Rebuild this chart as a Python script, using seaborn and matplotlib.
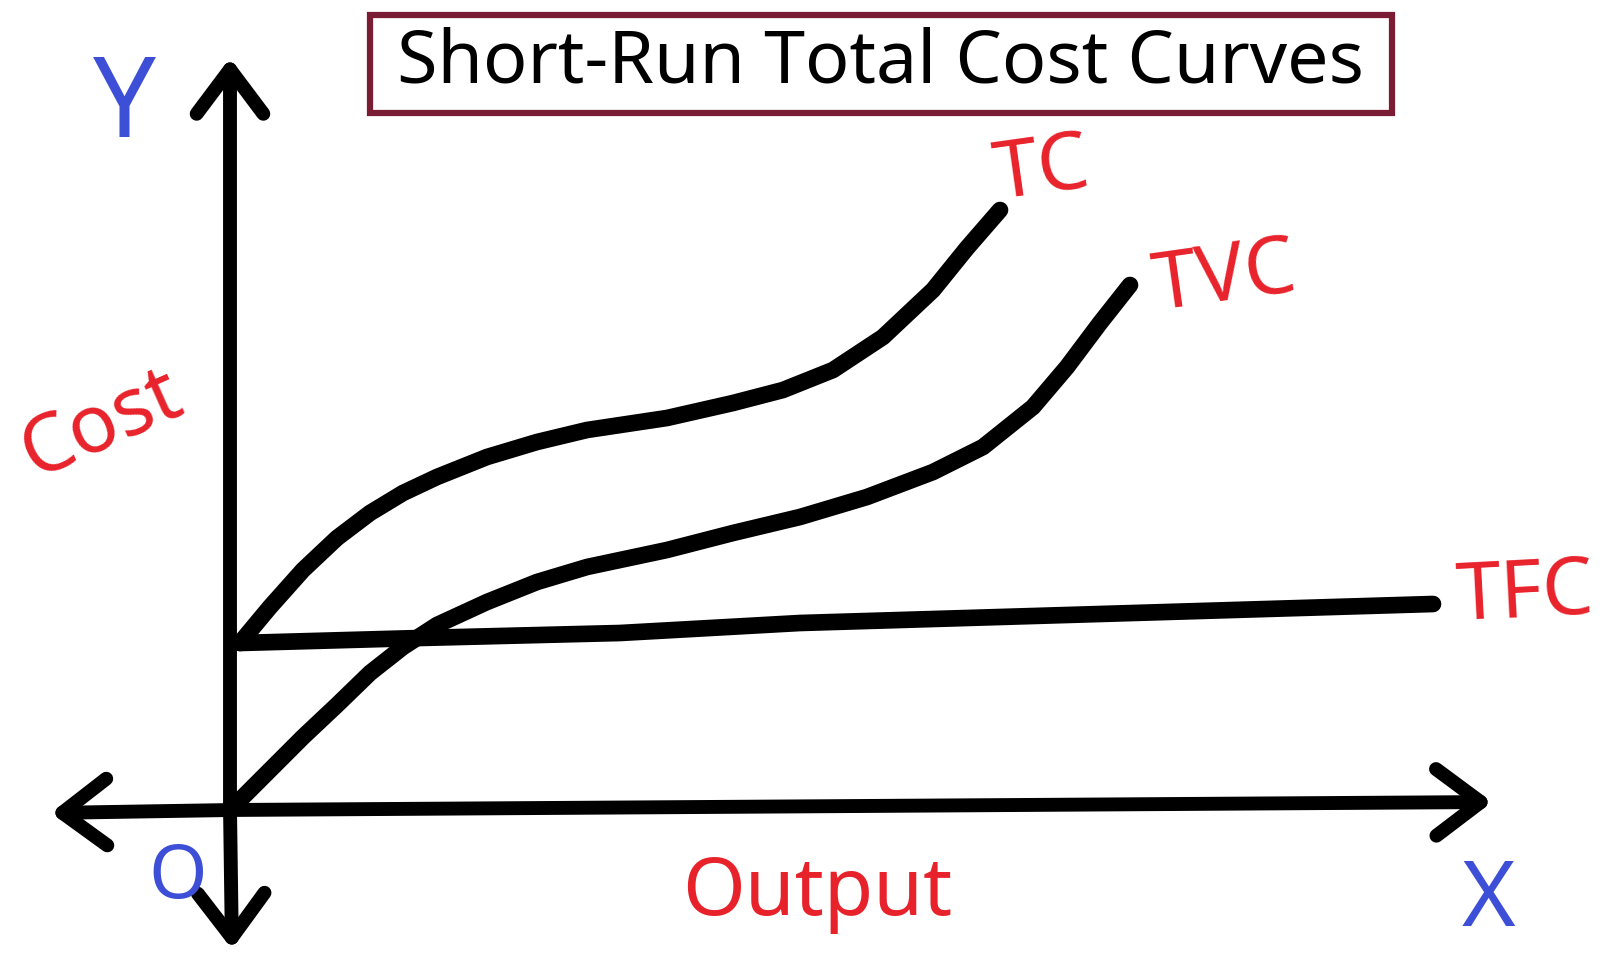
import pandas as pd
import matplotlib.pyplot as plt
from matplotlib.patches import Rectangle
import seaborn as sns

# curve points (output, cost); origin at the axes cross
tfc_output = [0.10, 1.90, 3.90, 5.70, 7.70, 12.03]
tfc_cost = [1.67, 1.72, 1.77, 1.87, 1.93, 2.06]

tvc_output = [0.07, 0.40, 0.73, 1.07, 1.40, 1.73, 2.07, 2.57, 3.07, 3.57,
              4.37, 5.03, 5.70, 6.37, 7.03, 7.53, 8.03, 8.37, 8.70, 9.00]
tvc_cost = [0.07, 0.40, 0.73, 1.05, 1.37, 1.63, 1.85, 2.08, 2.28, 2.43,
            2.60, 2.77, 2.93, 3.13, 3.38, 3.63, 4.03, 4.43, 4.87, 5.25]

tc_output = [0.10, 0.40, 0.73, 1.07, 1.40, 1.73, 2.07, 2.57, 3.07, 3.57,
             4.37, 5.03, 5.53, 6.03, 6.53, 7.03, 7.37, 7.70]
tc_cost = [1.67, 2.03, 2.40, 2.72, 2.97, 3.17, 3.33, 3.53, 3.68, 3.80,
           3.92, 4.07, 4.20, 4.40, 4.73, 5.20, 5.62, 6.00]

curve_names = ["TC", "TVC", "TFC"]
title = "Short-Run Total Cost Curves"

RED = "#e8222b"
BLUE = "#3d4fd6"
MAROON = "#7a1c33"

frames = []
for name, xs, ys in [("TC", tc_output, tc_cost),
                     ("TVC", tvc_output, tvc_cost),
                     ("TFC", tfc_output, tfc_cost)]:
    frames.append(pd.DataFrame({"output": xs, "cost": ys, "curve": name}))
df = pd.concat(frames, ignore_index=True)

sns.set_theme(style="white")
plt.rcParams["font.family"] = ["Noto Sans", "DejaVu Sans"]

fig = plt.figure(figsize=(16.12, 9.55), dpi=100)
ax = fig.add_axes([0, 0, 1, 1])
ax.set_xlim(-2.30, 13.82)
ax.set_ylim(-1.45, 8.10)
ax.axis("off")

sns.lineplot(data=df, x="output", y="cost", hue="curve", units="curve",
             estimator=None, sort=False, palette={c: "black" for c in curve_names},
             linewidth=12, legend=False, ax=ax, solid_capstyle="round",
             solid_joinstyle="round")

# hand-drawn style axes with open arrow heads
arrow = dict(arrowstyle="->, head_length=0.8, head_width=0.6", lw=10,
             color="black", mutation_scale=40, capstyle="round", joinstyle="round")
ax.annotate("", xy=(0, 7.55), xytext=(0, -0.02), arrowprops=arrow)
ax.annotate("", xy=(0.02, -1.42), xytext=(0, 0.02), arrowprops=arrow)
ax.annotate("", xy=(12.65, 0.08), xytext=(-0.02, 0.0), arrowprops=arrow)
ax.annotate("", xy=(-1.82, -0.03), xytext=(0.02, 0.0), arrowprops=arrow)

# curve labels next to the line ends
ends = {"TC": (tc_output[-1], tc_cost[-1], (30, 28), 8),
        "TVC": (tvc_output[-1], tvc_cost[-1], (68, 4), 8),
        "TFC": (tfc_output[-1], tfc_cost[-1], (66, 6), 3)}
for name in curve_names:
    x, y, off, rot = ends[name]
    ax.annotate(name, xy=(x, y), xytext=off, textcoords="offset points",
                ha="center", va="center", fontsize=58, color=RED, rotation=rot)

# axis words
ax.text(-1.28, 3.85, "Cost", fontsize=58, color=RED, rotation=24,
        ha="center", va="center")
ax.text(5.87, -0.84, "Output", fontsize=58, color=RED, ha="center", va="center")
ax.text(-1.06, 7.02, "Y", fontsize=80, color=BLUE, fontweight="bold",
        ha="center", va="center")
ax.text(12.58, -0.92, "X", fontsize=66, color=BLUE, fontweight="bold",
        ha="center", va="center")
ax.text(-0.52, -0.68, "O", fontsize=54, color=BLUE, fontweight="bold",
        ha="center", va="center")

# boxed title
ax.add_patch(Rectangle((0.2295, 0.8817), 0.634, 0.1026, transform=ax.transAxes,
                       facecolor="white", edgecolor=MAROON, linewidth=4.5))
ax.text(0.5465, 0.933, title, transform=ax.transAxes, fontsize=53,
        color="black", ha="center", va="center")

fig.savefig("out.png", dpi=100)
